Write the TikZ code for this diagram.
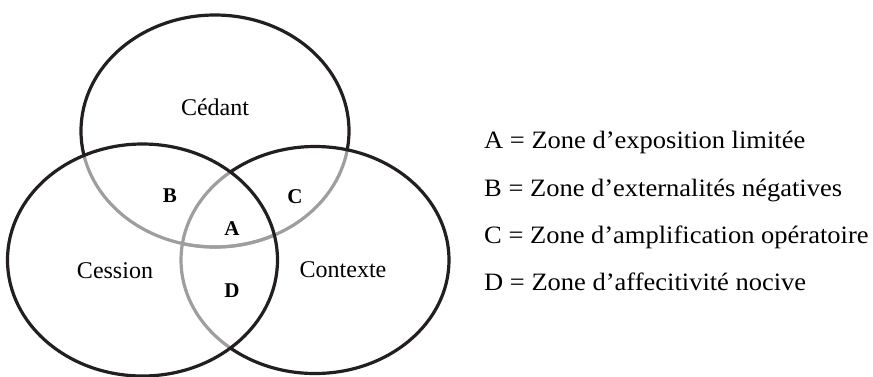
\documentclass[tikz,border=0pt]{standalone}
\usepackage{fontspec}
\setmainfont{Liberation Serif}
\newfontfamily\legendfont[FakeStretch=1.06]{Liberation Serif}
\definecolor{ringblack}{HTML}{231F20}
\definecolor{ringgray}{HTML}{9E9E9E}
\begin{document}
\begin{tikzpicture}[x=1pt,y=-1pt,
  ring/.style={line width=3.2pt, draw=ringblack},
  graying/.style={line width=3.2pt, draw=ringgray},
  ellT/.style={insert path={(215,131) ellipse [x radius=134pt, y radius=116pt]}},
  ellL/.style={insert path={(142.5,260) ellipse [x radius=135pt, y radius=116pt]}},
  ellR/.style={insert path={(315,260) ellipse [x radius=134pt, y radius=113.5pt]}},
  setlbl/.style={inner sep=0pt, anchor=base, font=\fontsize{24}{28}\selectfont},
  zonelbl/.style={inner sep=0pt, anchor=base, font=\fontsize{21}{24}\selectfont\bfseries},
  legend/.style={inner sep=0pt, anchor=base west, font=\legendfont\fontsize{25}{30}\selectfont}]
\useasboundingbox (0,0) rectangle (873,376);
% top ellipse: black outside the two others, gray inside
\begin{scope}
  \pgfseteorule
  \path[clip, ellL] (-50,450) rectangle (950,-50);
  \path[clip, ellR] (-50,450) rectangle (950,-50);
  \pgfsetnonzerorule
  \path[ring, ellT];
\end{scope}
\begin{scope}
  \path[clip, ellL];
  \path[graying, ellT];
\end{scope}
\begin{scope}
  \path[clip, ellR];
  \path[graying, ellT];
\end{scope}
% right ellipse: gray inside the left one
\begin{scope}
  \pgfseteorule
  \path[clip, ellL] (-50,450) rectangle (950,-50);
  \pgfsetnonzerorule
  \path[ring, ellR];
\end{scope}
\begin{scope}
  \path[clip, ellL];
  \path[graying, ellR];
\end{scope}
% left ellipse: black
\path[ring, ellL];
% set labels
\node[setlbl] (cedant) at (215,115) {Cédant};
\node[setlbl] (cession) at (115,278) {Cession};
\node[setlbl] (contexte) at (343,277) {Contexte};
% zone labels
\node[zonelbl] (zb) at (170,202) {B};
\node[zonelbl] (zc) at (295,203) {C};
\node[zonelbl] (za) at (232,235) {A};
\node[zonelbl] (zd) at (232,297) {D};
% legend
\node[legend] (la) at (484,148) {A = Zone d’exposition limitée};
\node[legend] (lb) at (484,196) {B = Zone d’externalités négatives};
\node[legend] (lc) at (484,243) {C = Zone d’amplification opératoire};
\node[legend] (ld) at (484,290) {D = Zone d’affecitivité nocive};
\end{tikzpicture}
\end{document}
